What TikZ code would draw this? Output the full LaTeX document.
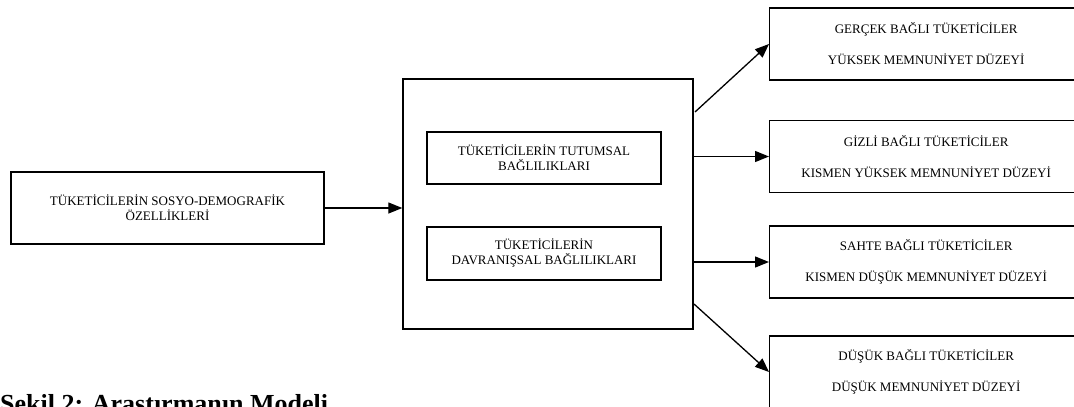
\documentclass[tikz,border=0pt]{standalone}
\usepackage{fontspec}
\setmainfont{Liberation Serif}
\usetikzlibrary{arrows.meta,calc}
\tikzstyle{box}=[draw,line width=1.4pt,inner sep=0pt,align=center,font=\fontsize{13}{15}\selectfont]
\tikzstyle{outbox}=[box,anchor=west,minimum width=313pt,minimum height=72pt,font=\fontsize{13}{31}\selectfont]
\tikzstyle{link}=[line width=1.3pt,-{Triangle[length=14pt,width=11pt]}]

\begin{document}
\begin{tikzpicture}[x=1pt,y=-1pt]
	\useasboundingbox (0,0) rectangle (1074,407);
	\clip (0,0) rectangle (1074,407);
	% input
	\node[box,minimum width=313pt,minimum height=72pt] (demo) at (167.5,208) {TÜKETİCİLERİN SOSYO-DEMOGRAFİK\\ÖZELLİKLERİ};
	% middle block
	\node[box,minimum width=290pt,minimum height=250pt] (loyal) at (548,204) {};
	\node[box,minimum width=234pt,minimum height=52pt] (attit) at (544,158) {TÜKETİCİLERİN TUTUMSAL\\BAĞLILIKLARI};
	\node[box,minimum width=234pt,minimum height=53pt] (behav) at (544,253.5) {TÜKETİCİLERİN\\DAVRANIŞSAL BAĞLILIKLARI};
	% outcomes
	\node[outbox] (real) at (769,44) {GERÇEK BAĞLI TÜKETİCİLER\\YÜKSEK MEMNUNİYET DÜZEYİ};
	\node[outbox] (hidden) at (769,156.5) {GİZLİ BAĞLI TÜKETİCİLER\\KISMEN YÜKSEK MEMNUNİYET DÜZEYİ};
	\node[outbox] (fake) at (769,262) {SAHTE BAĞLI TÜKETİCİLER\\KISMEN DÜŞÜK MEMNUNİYET DÜZEYİ};
	\node[outbox] (low) at (769,372) {DÜŞÜK BAĞLI TÜKETİCİLER\\DÜŞÜK MEMNUNİYET DÜZEYİ};
	\coordinate (upstart) at (695,112);
	\coordinate (dnstart) at (694,304);
	\draw[link] (demo.east) -- (demo.east -| loyal.west);
	\draw[link] (upstart) -- (real.west);
	\draw[link] (loyal.east |- hidden.west) -- (hidden.west);
	\draw[link] (loyal.east |- fake.west) -- (fake.west);
	\draw[link] (dnstart) -- (low.west);
	\node[anchor=base west,inner sep=0pt,font=\bfseries\fontsize{26}{30}\selectfont] (caption) at (0,412) {Şekil 2: Araştırmanın Modeli};
\end{tikzpicture}
\end{document}
